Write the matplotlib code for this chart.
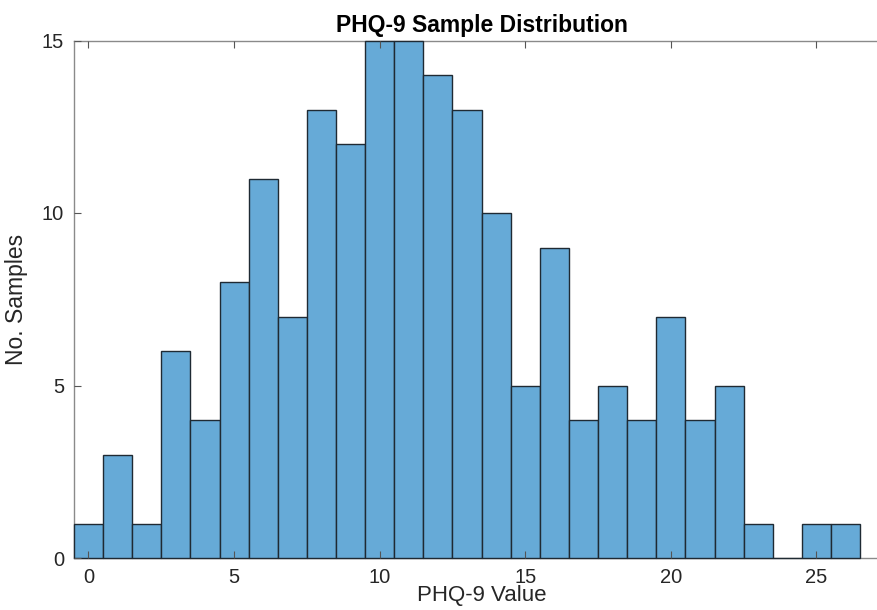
import matplotlib
matplotlib.use("Agg")
import matplotlib.pyplot as plt

plt.rcParams['font.family'] = ['Liberation Sans', 'DejaVu Sans']

phq_values = list(range(0, 27))
counts = [1, 3, 1, 6, 4, 8, 11, 7, 13, 12, 15, 15, 14, 13, 10, 5, 9, 4, 5, 4, 7, 4, 5, 1, 0, 1, 1]
x_ticks = [0, 5, 10, 15, 20, 25]
y_ticks = [0, 5, 10, 15]

W, H = 877, 610
fig = plt.figure(figsize=(W / 100, H / 100), dpi=100)
left, right, bottom, top = 73.9, 889.3, 558.0, 40.5
ax = fig.add_axes([left / W, (H - bottom) / H, (right - left) / W, (bottom - top) / H])
ax.set_axisbelow(False)

bar_color = (102 / 255, 170 / 255, 215 / 255)
bars = ax.bar(phq_values, counts, width=1.0, color=bar_color, edgecolor='#1f2a33',
              linewidth=1.0, zorder=2)
for b in bars:
    b.set_clip_on(False)

ax.set_xlim(-0.5, 27.5)
ax.set_ylim(0, 15)
ax.set_xticks(x_ticks)
ax.set_yticks(y_ticks)

spine_color = '#8a8a8a'
for s in ax.spines.values():
    s.set_color(spine_color)
    s.set_linewidth(1.0)
    s.set_zorder(1)
ax.tick_params(direction='in', length=5, width=0.8, color='#555555', labelcolor='#262626',
               labelsize=14.5, top=True, right=True, pad=7)

ax.set_title('PHQ-9 Sample Distribution', fontsize=16.5, fontweight='bold', color='black', pad=6)
ax.set_xlabel('PHQ-9 Value', fontsize=16, color='#262626', labelpad=-1)
ax.set_ylabel('No. Samples', fontsize=16.5, color='#262626', labelpad=10)

fig.savefig('out.png', dpi=100)
